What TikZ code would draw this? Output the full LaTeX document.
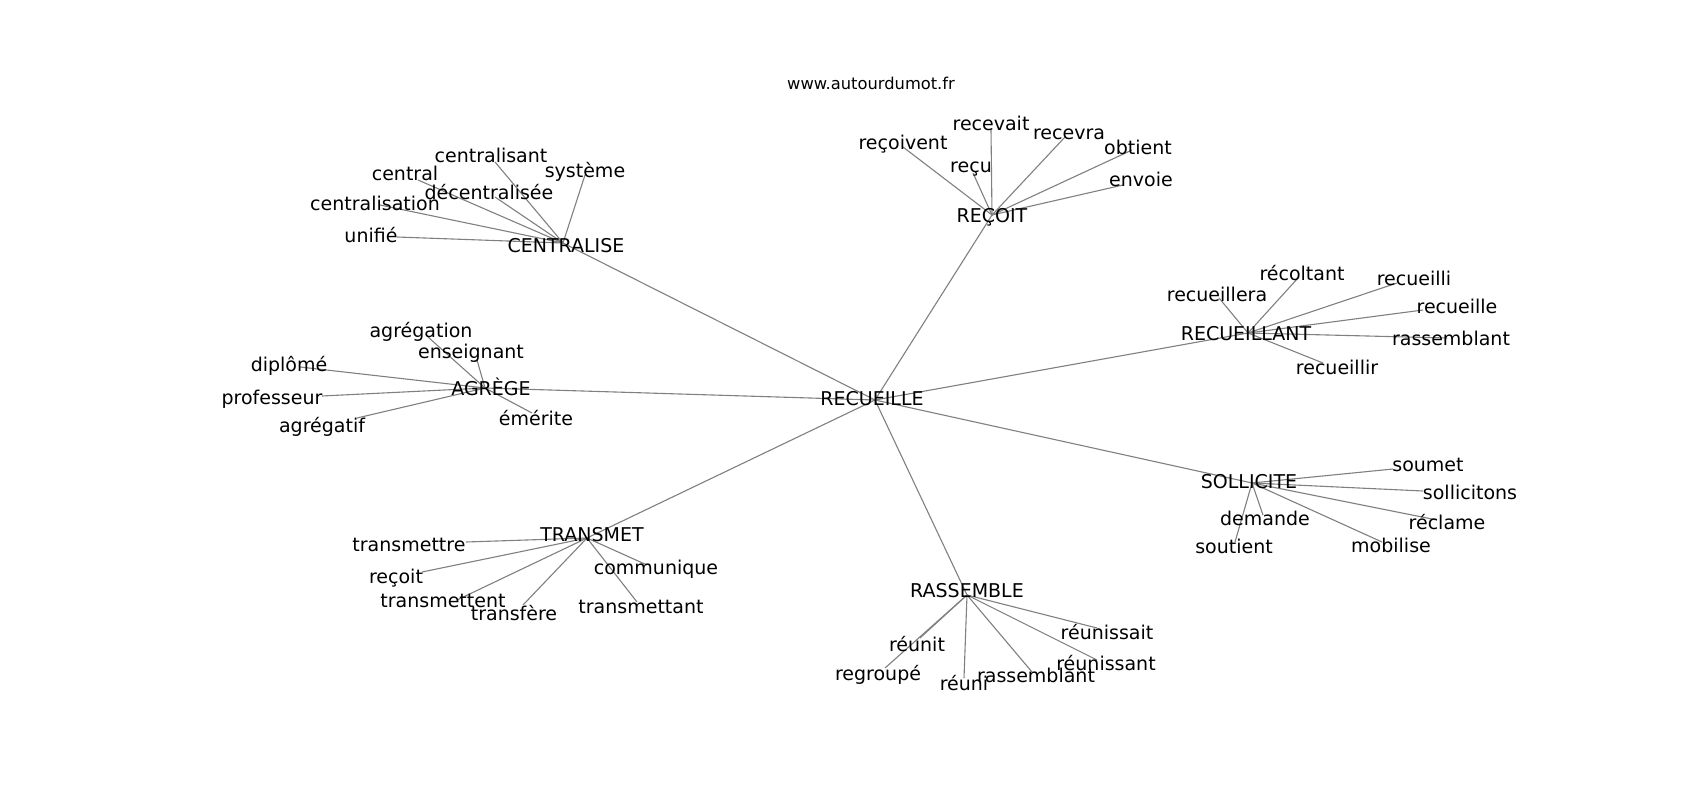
\documentclass[tikz,border=0pt]{standalone}
\usepackage{fontspec}
\setmainfont{DejaVu Sans}
\begin{document}
\begin{tikzpicture}[x=1pt,y=-1pt,
  lbl/.style={inner sep=0pt,text height=0.73em,text depth=0pt,yshift=-3.5pt,font=\fontsize{19}{22}\selectfont,text=black},
  ttl/.style={inner sep=0pt,text height=0.73em,text depth=0pt,yshift=-3.5pt,font=\fontsize{16.3}{19}\selectfont,text=black},
  edge/.style={draw=black!50,line width=1.1pt}]
\useasboundingbox (0,0) rectangle (1700,800);
\fill[white] (0,0) rectangle (1700,800);
% hub points
\coordinate (pR) at (875,400);
\coordinate (pC) at (563,243);
\coordinate (pQ) at (992,215);
\coordinate (pL) at (1248,333);
\coordinate (pA) at (485,388);
\coordinate (pT) at (587,538);
\coordinate (pM) at (967,595);
\coordinate (pS) at (1252,483);
% leaf points
\coordinate (c1) at (495,162);
\coordinate (c2) at (585,175);
\coordinate (c3) at (418,180);
\coordinate (c4) at (495,197);
\coordinate (c5) at (380,205);
\coordinate (c6) at (397,237);
\coordinate (q1) at (903,147);
\coordinate (q2) at (991,130);
\coordinate (q3) at (973,173);
\coordinate (q4) at (1065,137);
\coordinate (q5) at (1132,150);
\coordinate (q6) at (1123,185);
\coordinate (l1) at (1219,298);
\coordinate (l2) at (1298,278);
\coordinate (l3) at (1397,283);
\coordinate (l4) at (1423,310);
\coordinate (l5) at (1447,338);
\coordinate (l6) at (1323,363);
\coordinate (a1) at (428,337);
\coordinate (a2) at (477,360);
\coordinate (a3) at (300,367);
\coordinate (a4) at (322,396);
\coordinate (a5) at (357,418);
\coordinate (a6) at (532,413);
\coordinate (t1) at (466,542);
\coordinate (t2) at (422,572);
\coordinate (t3) at (457,600);
\coordinate (t4) at (523,605);
\coordinate (t5) at (647,565);
\coordinate (t6) at (637,602);
\coordinate (m1) at (920,638);
\coordinate (m2) at (885,668);
\coordinate (m3) at (964,678);
\coordinate (m4) at (1032,672);
\coordinate (m5) at (1097,628);
\coordinate (m6) at (1097,660);
\coordinate (s1) at (1393,469);
\coordinate (s2) at (1423,491);
\coordinate (s3) at (1437,520);
\coordinate (s4) at (1382,542);
\coordinate (s5) at (1263,515);
\coordinate (s6) at (1235,542);
% edges
\foreach \h in {pC,pQ,pL,pA,pT,pM,pS} \draw[edge] (pR) -- (\h);
\foreach \e in {c1,c2,c3,c4,c5,c6} \draw[edge] (pC) -- (\e);
\foreach \e in {q1,q2,q3,q4,q5,q6} \draw[edge] (pQ) -- (\e);
\foreach \e in {l1,l2,l3,l4,l5,l6} \draw[edge] (pL) -- (\e);
\foreach \e in {a1,a2,a3,a4,a5,a6} \draw[edge] (pA) -- (\e);
\foreach \e in {t1,t2,t3,t4,t5,t6} \draw[edge] (pT) -- (\e);
\foreach \e in {m1,m2,m3,m4,m5,m6} \draw[edge] (pM) -- (\e);
\foreach \e in {s1,s2,s3,s4,s5,s6} \draw[edge] (pS) -- (\e);
% title
\node[ttl] (title) at (871,82) {www.autourdumot.fr};
% hub labels
\node[lbl] (R) at (872,398) {RECUEILLE};
\node[lbl] (C) at (566,245) {CENTRALISE};
\node[lbl] (Q) at (992,215) {REÇOIT};
\node[lbl] (L) at (1246,333) {RECUEILLANT};
\node[lbl] (A) at (491,388) {AGRÈGE};
\node[lbl] (T) at (592,534) {TRANSMET};
\node[lbl] (M) at (967,590) {RASSEMBLE};
\node[lbl] (S) at (1249,481) {SOLLICITE};
% leaf labels
\node[lbl] (C1) at (491,155) {centralisant};
\node[lbl] (C2) at (585,170) {système};
\node[lbl] (C3) at (405,173) {central};
\node[lbl] (C4) at (489,192) {décentralisée};
\node[lbl] (C5) at (375,203) {centralisation};
\node[lbl] (C6) at (371,235) {unifié};
\node[lbl] (Q1) at (903,142) {reçoivent};
\node[lbl] (Q2) at (991,123) {recevait};
\node[lbl] (Q3) at (971,165) {reçu};
\node[lbl] (Q4) at (1069,132) {recevra};
\node[lbl] (Q5) at (1138,147) {obtient};
\node[lbl] (Q6) at (1141,179) {envoie};
\node[lbl] (L1) at (1217,294) {recueillera};
\node[lbl] (L2) at (1302,273) {récoltant};
\node[lbl] (L3) at (1414,278) {recueilli};
\node[lbl] (L4) at (1457,306) {recueille};
\node[lbl] (L5) at (1451,338) {rassemblant};
\node[lbl] (L6) at (1337,367) {recueillir};
\node[lbl] (A1) at (421,330) {agrégation};
\node[lbl] (A2) at (471,351) {enseignant};
\node[lbl] (A3) at (289,364) {diplômé};
\node[lbl] (A4) at (272,397) {professeur};
\node[lbl] (A5) at (322,425) {agrégatif};
\node[lbl] (A6) at (536,418) {émérite};
\node[lbl] (T1) at (409,544) {transmettre};
\node[lbl] (T2) at (396,576) {reçoit};
\node[lbl] (T3) at (443,600) {transmettent};
\node[lbl] (T4) at (514,613) {transfère};
\node[lbl] (T5) at (656,567) {communique};
\node[lbl] (T6) at (641,606) {transmettant};
\node[lbl] (M1) at (917,644) {réunit};
\node[lbl] (M2) at (878,673) {regroupé};
\node[lbl] (M3) at (964,683) {réuni};
\node[lbl] (M4) at (1036,675) {rassemblant};
\node[lbl] (M5) at (1107,632) {réunissait};
\node[lbl] (M6) at (1106,663) {réunissant};
\node[lbl] (S1) at (1428,464) {soumet};
\node[lbl] (S2) at (1470,492) {sollicitons};
\node[lbl] (S3) at (1447,522) {réclame};
\node[lbl] (S4) at (1391,545) {mobilise};
\node[lbl] (S5) at (1265,518) {demande};
\node[lbl] (S6) at (1234,546) {soutient};
\end{tikzpicture}
\end{document}
